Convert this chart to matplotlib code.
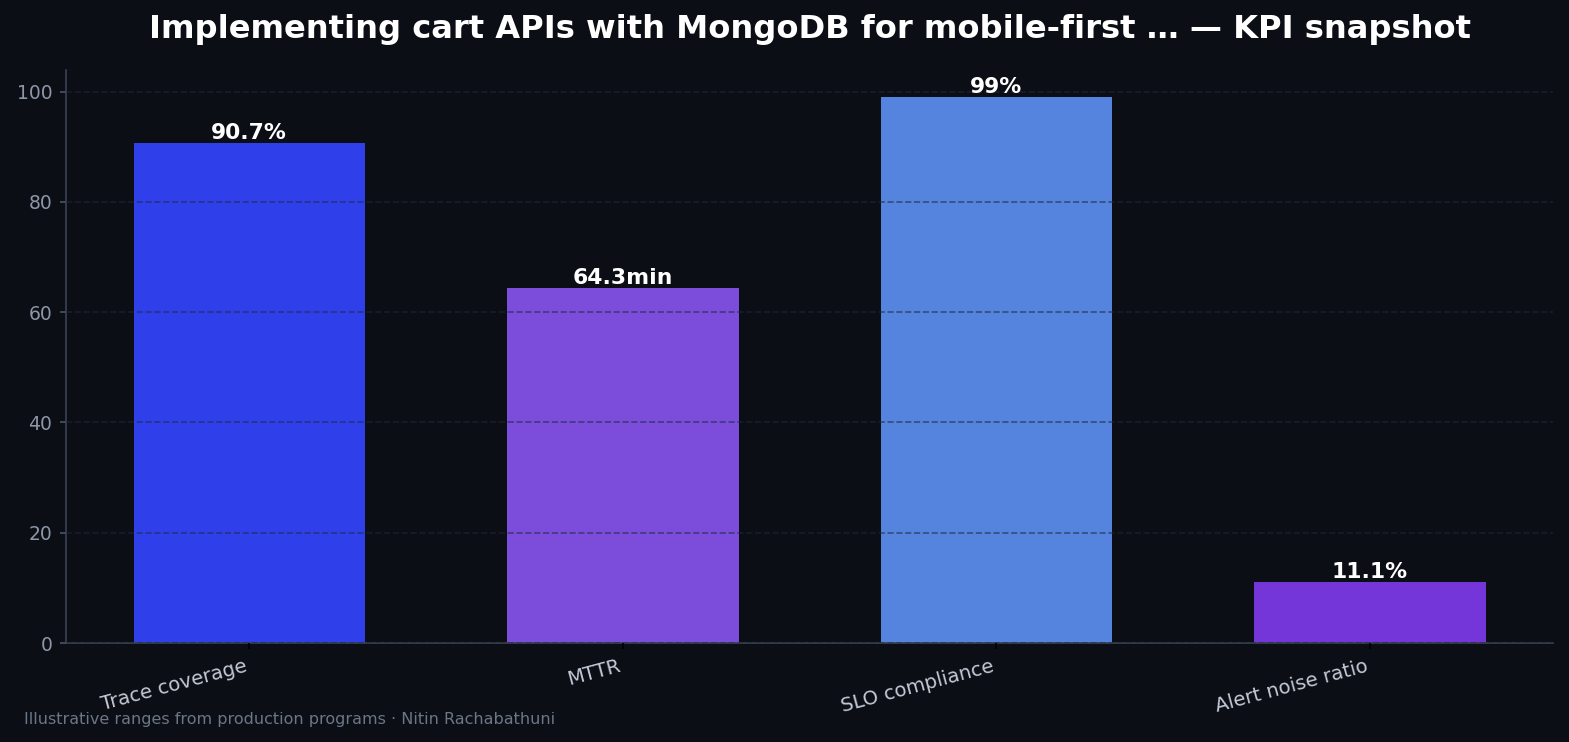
import matplotlib
matplotlib.use("Agg")
import matplotlib.pyplot as plt

categories = ["Trace coverage", "MTTR", "SLO compliance", "Alert noise ratio"]
values = [90.7, 64.3, 99.0, 11.1]
labels = ["90.7%", "64.3min", "99%", "11.1%"]
colors = ["#2F40EA", "#7C4DDB", "#5584DE", "#7436D9"]

BG = "#0B0E14"
fig = plt.figure(figsize=(1569/150, 742/150), dpi=150, facecolor=BG)
ax = fig.add_axes([0.042, 0.1334, 0.948, 0.7726])
ax.set_facecolor(BG)

x = range(len(categories))
bars = ax.bar(x, values, width=0.62, color=colors, zorder=2)
for b, lab in zip(bars, labels):
    ax.text(b.get_x() + b.get_width()/2, b.get_height() + 0.05, lab,
            ha="center", va="bottom", color="white", fontsize=10.5, fontweight="bold", zorder=5)

ax.set_xticks(list(x))
ax.set_xticklabels(categories, rotation=15, ha="right", color="#C3CAD6", fontsize=9.5)
ax.tick_params(axis="x", colors="#000000", labelcolor="#C3CAD6", length=3)
ax.tick_params(axis="y", colors="#4A5466", labelcolor="#8D97A8", labelsize=9, length=3)
ax.set_yticks([0, 20, 40, 60, 80, 100])
ax.set_axisbelow(False)
ax.grid(axis="y", linestyle="--", color="#1E293B", alpha=0.6, linewidth=0.8, zorder=3)
for s in ["top", "right"]:
    ax.spines[s].set_visible(False)
for s in ["left", "bottom"]:
    ax.spines[s].set_color("#3A4456")

ax.set_title("Implementing cart APIs with MongoDB for mobile-first … — KPI snapshot",
             color="white", fontsize=15.4, fontweight="bold", pad=15)
fig.text(0.015, 0.03, "Illustrative ranges from production programs · Nitin Rachabathuni",
         ha="left", va="center", color="#6B7687", fontsize=7.7)

fig.savefig("out.png", dpi=150, facecolor=BG)
